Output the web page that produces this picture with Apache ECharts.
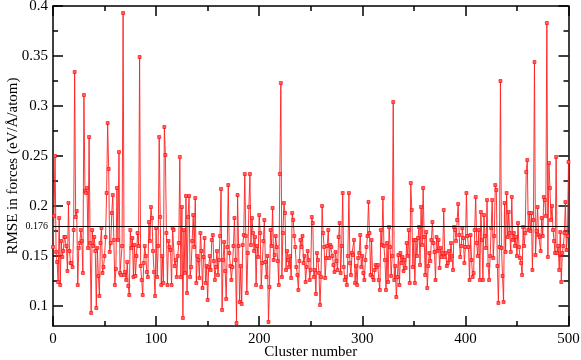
<!DOCTYPE html>
<html>
<head>
<meta charset="utf-8">
<script src="https://cdn.jsdelivr.net/npm/echarts@6/dist/echarts.min.js"></script>
<style>html,body{margin:0;padding:0;background:#fff;}#chart{width:581px;height:360px;}</style>
</head>
<body>
<div id="chart"></div>
<script>
// RMSE in forces per cluster (cluster index = array index, 0..500)
const rmse = [
0.159,0.19,0.25,0.154,0.144,0.124,0.188,0.121,0.165,0.149,
0.155,0.169,0.169,0.16,0.135,0.203,0.155,0.143,0.143,0.139,
0.176,0.334,0.189,0.195,0.121,0.158,0.163,0.176,0.165,0.133,
0.311,0.215,0.213,0.218,0.158,0.269,0.163,0.093,0.176,0.16,
0.169,0.155,0.098,0.158,0.13,0.11,0.163,0.178,0.133,0.139,
0.15,0.169,0.213,0.283,0.237,0.154,0.163,0.193,0.211,0.166,
0.121,0.137,0.218,0.166,0.254,0.133,0.131,0.16,0.393,0.131,
0.134,0.126,0.144,0.12,0.111,0.176,0.158,0.168,0.129,0.161,
0.13,0.15,0.173,0.16,0.349,0.14,0.126,0.111,0.143,0.16,
0.15,0.134,0.129,0.184,0.165,0.199,0.188,0.155,0.134,0.11,
0.178,0.129,0.16,0.269,0.189,0.121,0.15,0.123,0.279,0.251,
0.173,0.121,0.165,0.159,0.156,0.121,0.178,0.176,0.14,0.146,
0.129,0.15,0.163,0.249,0.129,0.199,0.088,0.176,0.133,0.21,
0.113,0.189,0.21,0.129,0.139,0.165,0.191,0.159,0.208,0.123,
0.15,0.146,0.128,0.173,0.155,0.118,0.149,0.168,0.123,0.14,
0.106,0.139,0.15,0.136,0.166,0.171,0.145,0.126,0.139,0.155,
0.131,0.146,0.17,0.217,0.096,0.146,0.164,0.135,0.107,0.159,
0.221,0.153,0.14,0.126,0.139,0.16,0.188,0.146,0.083,0.211,
0.16,0.104,0.14,0.102,0.161,0.171,0.232,0.17,0.113,0.153,
0.199,0.232,0.161,0.188,0.173,0.155,0.169,0.121,0.16,0.149,
0.191,0.173,0.119,0.143,0.165,0.186,0.144,0.129,0.15,0.084,
0.119,0.176,0.16,0.198,0.146,0.151,0.17,0.159,0.145,0.121,
0.232,0.323,0.129,0.173,0.203,0.193,0.136,0.155,0.146,0.139,
0.15,0.128,0.193,0.186,0.17,0.159,0.139,0.131,0.116,0.145,
0.166,0.159,0.17,0.143,0.15,0.124,0.139,0.155,0.146,0.126,
0.136,0.189,0.183,0.129,0.136,0.112,0.153,0.146,0.133,0.101,
0.129,0.2,0.173,0.159,0.128,0.148,0.16,0.176,0.148,0.161,
0.159,0.15,0.141,0.134,0.154,0.145,0.136,0.169,0.183,0.133,
0.16,0.213,0.139,0.126,0.129,0.121,0.15,0.213,0.143,0.131,
0.153,0.151,0.166,0.123,0.14,0.121,0.148,0.153,0.171,0.139,
0.15,0.133,0.126,0.146,0.159,0.17,0.204,0.173,0.131,0.166,
0.129,0.126,0.136,0.141,0.139,0.141,0.126,0.116,0.176,0.161,
0.208,0.16,0.146,0.116,0.163,0.124,0.179,0.159,0.13,0.15,
0.304,0.126,0.14,0.109,0.129,0.151,0.121,0.153,0.143,0.149,
0.135,0.146,0.138,0.163,0.15,0.176,0.123,0.223,0.196,0.139,
0.166,0.123,0.166,0.15,0.168,0.179,0.141,0.199,0.161,0.218,
0.169,0.131,0.174,0.118,0.14,0.153,0.145,0.166,0.184,0.163,
0.154,0.126,0.169,0.155,0.166,0.138,0.158,0.149,0.153,0.196,
0.149,0.153,0.14,0.143,0.155,0.146,0.163,0.15,0.136,0.179,
0.176,0.165,0.186,0.202,0.171,0.149,0.16,0.178,0.168,0.143,
0.159,0.213,0.17,0.159,0.126,0.171,0.146,0.129,0.133,0.176,
0.209,0.163,0.15,0.176,0.126,0.194,0.166,0.126,0.191,0.17,
0.158,0.206,0.141,0.126,0.15,0.178,0.206,0.148,0.17,0.221,
0.216,0.14,0.103,0.159,0.325,0.158,0.13,0.104,0.203,0.154,
0.213,0.169,0.194,0.173,0.154,0.209,0.166,0.173,0.16,0.169,
0.15,0.183,0.159,0.148,0.143,0.131,0.179,0.16,0.173,0.234,
0.246,0.176,0.193,0.175,0.193,0.136,0.186,0.344,0.151,0.175,
0.199,0.171,0.169,0.155,0.188,0.17,0.209,0.206,0.19,0.383,
0.149,0.243,0.218,0.186,0.2,0.176,0.165,0.153,0.249,0.153,
0.16,0.136,0.174,0.124,0.153,0.16,0.173,0.204,0.156,0.17,
0.244
];
const clusters = rmse.map((_, i) => i);
const yMajorTicks = [0.1, 0.15, 0.2, 0.25, 0.3, 0.35, 0.4];
const yMinorTicks = [0.125, 0.175, 0.225, 0.275, 0.325, 0.375];
const refLineY = 0.18;
const refLineLabel = '0.176';
const xTitle = 'Cluster number';
const yTitle = 'RMSE in forces (eV/Å/atom)';

const FONT = 'Liberation Serif';
const black = '#000';
const lineW = 1.5;

function yAxisCommon(pos, ticks, len, showLine, showLabel) {
  return {
    type: 'value', position: pos, min: 0.08, max: 0.4,
    axisLine: { show: showLine, lineStyle: { color: black, width: lineW } },
    axisTick: { show: true, inside: true, length: len, customValues: ticks, lineStyle: { color: black, width: lineW } },
    axisLabel: showLabel ? { show: true, customValues: ticks, margin: 5, fontFamily: FONT, fontSize: 15, color: black,
      formatter: v => String(+(+v).toFixed(3)) } : { show: false },
    splitLine: { show: false }
  };
}

const chart = echarts.init(document.getElementById('chart'), null, { renderer: 'canvas' });
chart.setOption({
  animation: false,
  backgroundColor: '#fff',
  grid: { left: 53, right: 12.5, top: 6, bottom: 34, containLabel: false, outerBoundsMode: 'none' },
  xAxis: [
    {
      type: 'value', position: 'bottom', min: 0, max: 500, interval: 100,
      name: xTitle, nameLocation: 'middle', nameGap: 19, nameMoveOverlap: false,
      nameTextStyle: { fontFamily: FONT, fontSize: 15, color: black },
      axisLine: { show: true, lineStyle: { color: black, width: lineW } },
      axisTick: { show: true, inside: true, length: 10, lineStyle: { color: black, width: lineW } },
      minorTick: { show: true, splitNumber: 2, length: 5, lineStyle: { color: black, width: lineW } },
      axisLabel: { fontFamily: FONT, fontSize: 15, color: black, margin: 6 },
      splitLine: { show: false }, minorSplitLine: { show: false }
    },
    {
      type: 'value', position: 'top', min: 0, max: 500, interval: 100,
      axisLine: { show: true, lineStyle: { color: black, width: lineW } },
      axisTick: { show: true, inside: true, length: 10, lineStyle: { color: black, width: lineW } },
      minorTick: { show: true, splitNumber: 2, length: 5, lineStyle: { color: black, width: lineW } },
      axisLabel: { show: false },
      splitLine: { show: false }, minorSplitLine: { show: false }
    }
  ],
  yAxis: [
    Object.assign(yAxisCommon('left', yMajorTicks, 10, true, true), {
      name: yTitle, nameLocation: 'middle', nameGap: 32, nameMoveOverlap: false,
      nameTextStyle: { fontFamily: FONT, fontSize: 15, color: black }
    }),
    yAxisCommon('left', yMinorTicks, 5, false, false),
    yAxisCommon('right', yMajorTicks, 10, true, false),
    yAxisCommon('right', yMinorTicks, 5, false, false)
  ],
  series: [
    {
      type: 'line',
      xAxisIndex: 0, yAxisIndex: 0,
      data: clusters.map((c, i) => [c, rmse[i]]),
      symbol: 'rect', symbolSize: 3,
      showSymbol: true,
      lineStyle: { color: '#ff2020', width: 0.9 },
      itemStyle: { color: '#ff6060', borderColor: '#ff0000', borderWidth: 0.6 },
      emphasis: { disabled: true },
      markLine: {
        silent: true, symbol: ['none', 'none'],
        lineStyle: { color: black, width: 1.2, type: 'solid' },
        label: { show: true, position: 'start', distance: 5, formatter: refLineLabel,
          fontFamily: FONT, fontSize: 10, color: black },
        data: [{ yAxis: refLineY }]
      },
      z: 3
    }
  ]
});
</script>
</body>
</html>
